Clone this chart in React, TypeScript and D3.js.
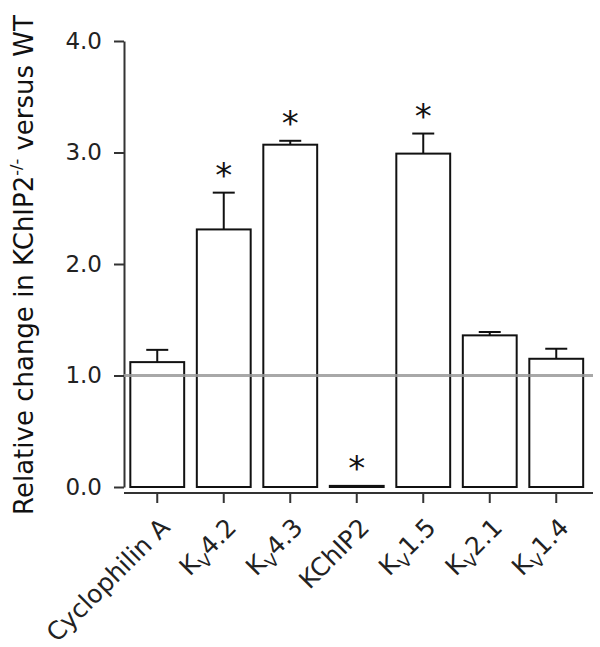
import React, { useEffect, useRef } from 'react';
import * as d3 from 'd3';

const genes = ['Cyclophilin A', 'Kv4.2', 'Kv4.3', 'KChIP2', 'Kv1.5', 'Kv2.1', 'Kv1.4'];
const means = [1.12, 2.31, 3.07, 0.01, 2.99, 1.36, 1.15];
const sems = [0.11, 0.33, 0.035, 0, 0.18, 0.03, 0.09];
const significant = [false, true, true, true, true, false, false];
const yTicks = [0, 1, 2, 3, 4];

const W = 600;
const H = 647;
const FONT = 'Verdana, "DejaVu Sans", sans-serif';

export default function App() {
  const svgRef = useRef<SVGSVGElement>(null);

  useEffect(() => {
    if (!svgRef.current) return;
    const svg = d3.select(svgRef.current);
    svg.selectAll('*').remove();

    const x = d3.scaleBand<string>()
      .domain(genes)
      .range([124, 589.5])
      .paddingInner(0.19)
      .paddingOuter(0.095);

    const y = d3.scaleLinear().domain([0, 4]).range([487, 41]);

    // y axis
    const yAxis = svg.append('g').attr('transform', 'translate(124,0)');
    yAxis.call(d3.axisLeft(y).tickValues(yTicks).tickFormat(d3.format('.1f')).tickSize(10).tickSizeOuter(0));
    yAxis.select('.domain').attr('stroke', '#333').attr('stroke-width', 2);
    yAxis.selectAll('.tick line').attr('stroke', '#333').attr('stroke-width', 2);
    yAxis.selectAll('.tick text')
      .attr('font-family', FONT)
      .attr('font-size', 23)
      .attr('fill', '#222')
      .attr('x', -22);

    // x axis
    const xAxisY = 493;
    svg.append('line')
      .attr('x1', 124).attr('x2', 593)
      .attr('y1', xAxisY).attr('y2', xAxisY)
      .attr('stroke', '#333').attr('stroke-width', 2);

    svg.append('g').selectAll('line.xt')
      .data(genes)
      .join('line')
      .attr('x1', d => x(d)! + x.bandwidth() / 2)
      .attr('x2', d => x(d)! + x.bandwidth() / 2)
      .attr('y1', xAxisY)
      .attr('y2', xAxisY + 10)
      .attr('stroke', '#333')
      .attr('stroke-width', 2);

    // x labels, rotated
    const labels = svg.append('g').selectAll('text')
      .data(genes)
      .join('text')
      .attr('font-family', FONT)
      .attr('font-size', 25)
      .attr('fill', '#222')
      .attr('text-anchor', 'end')
      .attr('transform', d => `translate(${x(d)! + x.bandwidth() / 2 + 14},${xAxisY + 36}) rotate(-45)`);

    labels.each(function (d) {
      const t = d3.select(this);
      if (d.startsWith('Kv')) {
        t.append('tspan').text('K');
        t.append('tspan').attr('font-size', 17).attr('dy', 6).text('V');
        t.append('tspan').attr('dy', -6).text(d.slice(2));
      } else {
        t.text(d);
      }
    });

    // bars
    const data = genes.map((g, i) => ({ g, m: means[i], s: sems[i], sig: significant[i] }));

    svg.append('g').selectAll('line.err')
      .data(data.filter(d => d.s > 0))
      .join('line')
      .attr('x1', d => x(d.g)! + x.bandwidth() / 2)
      .attr('x2', d => x(d.g)! + x.bandwidth() / 2)
      .attr('y1', d => y(d.m))
      .attr('y2', d => y(d.m + d.s))
      .attr('stroke', '#111')
      .attr('stroke-width', 2);

    svg.append('g').selectAll('line.cap')
      .data(data.filter(d => d.s > 0))
      .join('line')
      .attr('x1', d => x(d.g)! + x.bandwidth() / 2 - 11)
      .attr('x2', d => x(d.g)! + x.bandwidth() / 2 + 11)
      .attr('y1', d => y(d.m + d.s))
      .attr('y2', d => y(d.m + d.s))
      .attr('stroke', '#111')
      .attr('stroke-width', 2);

    svg.append('g').selectAll('rect')
      .data(data)
      .join('rect')
      .attr('x', d => x(d.g)!)
      .attr('width', x.bandwidth())
      .attr('y', d => y(d.m))
      .attr('height', d => y(0) - y(d.m))
      .attr('fill', 'white')
      .attr('stroke', '#111')
      .attr('stroke-width', 2);

    // reference line at 1.0
    svg.append('line')
      .attr('x1', 124).attr('x2', 593)
      .attr('y1', y(1)).attr('y2', y(1))
      .attr('stroke', '#999')
      .attr('stroke-opacity', 0.85)
      .attr('stroke-width', 3);

    // significance stars
    svg.append('g').selectAll('text')
      .data(data.filter(d => d.sig))
      .join('text')
      .attr('x', d => x(d.g)! + x.bandwidth() / 2)
      .attr('y', d => y(d.m + d.s) - 6)
      .attr('text-anchor', 'middle')
      .attr('font-family', FONT)
      .attr('font-size', 34)
      .attr('fill', '#111')
      .text('*');

    // y title
    const yt = svg.append('text')
      .attr('transform', 'translate(33,265) rotate(-90)')
      .attr('text-anchor', 'middle')
      .attr('font-family', FONT)
      .attr('font-size', 26)
      .attr('fill', '#111');
    yt.append('tspan').text('Relative change in KChIP2');
    yt.append('tspan').attr('font-size', 16).attr('dy', -11).text('-/-');
    yt.append('tspan').attr('dy', 11).text(' versus WT');
  }, []);

  return (
    <svg
      ref={svgRef}
      width={W}
      height={H}
      style={{ position: 'absolute', left: 0, top: 0, background: 'white' }}
    />
  );
}
